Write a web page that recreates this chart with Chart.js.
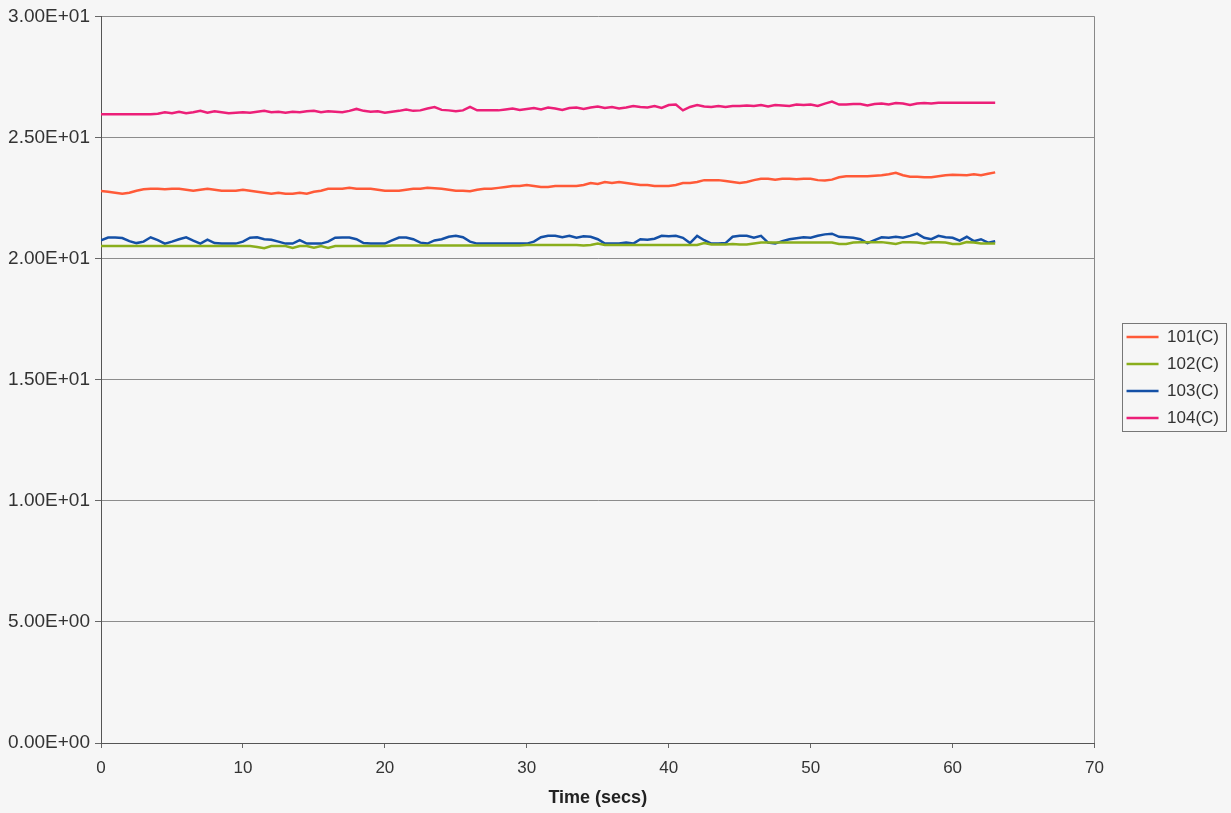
<!DOCTYPE html>
<html>
<head>
<meta charset="utf-8">
<script src="https://cdn.jsdelivr.net/npm/chart.js@4/dist/chart.umd.min.js"></script>
<style>
  html, body { margin: 0; padding: 0; background: #f6f6f6; }
  #wrap { width: 1231px; height: 813px; }
</style>
</head>
<body>
<div id="wrap"><canvas id="myChart" width="1231" height="813"></canvas></div>
<script>
// sample step 0.5 s, from 0 to 63 s
const timeStep = 0.5;
const times = [];
for (let i = 0; i <= 126; i++) times.push(i * timeStep);

const t101 = [
  22.79, 22.76, 22.72, 22.68, 22.72, 22.80, 22.86, 22.88, 22.88, 22.86,
  22.88, 22.88, 22.84, 22.80, 22.84, 22.88, 22.84, 22.80, 22.80, 22.80,
  22.84, 22.80, 22.76, 22.72, 22.68, 22.72, 22.68, 22.68, 22.72, 22.68,
  22.76, 22.80, 22.88, 22.88, 22.88, 22.92, 22.88, 22.88, 22.88, 22.84,
  22.80, 22.80, 22.80, 22.84, 22.88, 22.88, 22.92, 22.90, 22.88, 22.84,
  22.80, 22.80, 22.78, 22.84, 22.88, 22.88, 22.92, 22.96, 23.00, 23.00,
  23.04, 23.00, 22.96, 22.96, 23.00, 23.00, 23.00, 23.00, 23.04, 23.12,
  23.08, 23.16, 23.12, 23.16, 23.12, 23.08, 23.04, 23.04, 23.00, 23.00,
  23.00, 23.04, 23.12, 23.12, 23.16, 23.24, 23.24, 23.24, 23.20, 23.16,
  23.12, 23.16, 23.24, 23.30, 23.30, 23.26, 23.30, 23.30, 23.28, 23.30,
  23.30, 23.24, 23.22, 23.26, 23.36, 23.40, 23.40, 23.40, 23.40, 23.42,
  23.44, 23.48, 23.54, 23.44, 23.38, 23.38, 23.36, 23.36, 23.40, 23.44,
  23.46, 23.45, 23.44, 23.48, 23.44, 23.50, 23.56
];

const t102 = [
  20.52, 20.52, 20.52, 20.52, 20.52, 20.52, 20.52, 20.52, 20.52, 20.52,
  20.52, 20.52, 20.52, 20.52, 20.52, 20.52, 20.52, 20.52, 20.52, 20.52,
  20.52, 20.52, 20.48, 20.43, 20.52, 20.52, 20.52, 20.44, 20.52, 20.52,
  20.45, 20.52, 20.44, 20.52, 20.52, 20.52, 20.52, 20.52, 20.52, 20.52,
  20.52, 20.54, 20.54, 20.54, 20.54, 20.54, 20.54, 20.54, 20.54, 20.54,
  20.54, 20.54, 20.54, 20.54, 20.54, 20.54, 20.54, 20.54, 20.54, 20.54,
  20.56, 20.56, 20.56, 20.56, 20.56, 20.56, 20.56, 20.56, 20.54, 20.56,
  20.62, 20.56, 20.56, 20.56, 20.56, 20.56, 20.56, 20.56, 20.56, 20.56,
  20.56, 20.56, 20.56, 20.56, 20.56, 20.64, 20.58, 20.58, 20.58, 20.60,
  20.58, 20.58, 20.62, 20.66, 20.66, 20.66, 20.66, 20.66, 20.66, 20.66,
  20.66, 20.66, 20.66, 20.66, 20.60, 20.60, 20.66, 20.68, 20.68, 20.68,
  20.68, 20.64, 20.60, 20.68, 20.68, 20.66, 20.62, 20.68, 20.68, 20.66,
  20.60, 20.60, 20.68, 20.66, 20.62, 20.62, 20.62
];

const t103 = [
  20.75, 20.87, 20.87, 20.85, 20.72, 20.64, 20.70, 20.88, 20.76, 20.62,
  20.70, 20.80, 20.88, 20.74, 20.62, 20.78, 20.64, 20.62, 20.62, 20.62,
  20.70, 20.86, 20.88, 20.80, 20.78, 20.70, 20.62, 20.62, 20.76, 20.62,
  20.62, 20.62, 20.70, 20.86, 20.87, 20.87, 20.80, 20.64, 20.62, 20.62,
  20.62, 20.75, 20.87, 20.87, 20.80, 20.66, 20.62, 20.75, 20.80, 20.90,
  20.94, 20.88, 20.70, 20.62, 20.62, 20.62, 20.62, 20.62, 20.62, 20.62,
  20.62, 20.70, 20.88, 20.94, 20.94, 20.88, 20.94, 20.86, 20.92, 20.90,
  20.80, 20.62, 20.62, 20.62, 20.66, 20.62, 20.80, 20.78, 20.82, 20.94,
  20.92, 20.94, 20.86, 20.64, 20.94, 20.76, 20.62, 20.62, 20.64, 20.90,
  20.94, 20.94, 20.86, 20.94, 20.66, 20.62, 20.72, 20.80, 20.84, 20.88,
  20.86, 20.94, 21.00, 21.03, 20.90, 20.88, 20.86, 20.80, 20.64, 20.76,
  20.88, 20.86, 20.90, 20.86, 20.94, 21.03, 20.86, 20.80, 20.94, 20.88,
  20.86, 20.74, 20.90, 20.72, 20.80, 20.66, 20.72
];

const t104 = [
  25.96, 25.96, 25.96, 25.96, 25.96, 25.96, 25.96, 25.96, 25.98, 26.04,
  26.00, 26.06, 26.00, 26.04, 26.10, 26.02, 26.08, 26.04, 26.00, 26.02,
  26.04, 26.02, 26.06, 26.10, 26.04, 26.06, 26.02, 26.06, 26.04, 26.08,
  26.10, 26.04, 26.08, 26.06, 26.04, 26.10, 26.18, 26.10, 26.06, 26.08,
  26.02, 26.06, 26.10, 26.16, 26.10, 26.12, 26.20, 26.26, 26.14, 26.12,
  26.08, 26.12, 26.26, 26.12, 26.12, 26.12, 26.12, 26.16, 26.20, 26.14,
  26.18, 26.22, 26.16, 26.24, 26.20, 26.14, 26.22, 26.24, 26.18, 26.24,
  26.28, 26.22, 26.26, 26.20, 26.24, 26.30, 26.26, 26.24, 26.30, 26.22,
  26.34, 26.36, 26.12, 26.26, 26.34, 26.28, 26.26, 26.30, 26.26, 26.30,
  26.30, 26.32, 26.30, 26.34, 26.28, 26.34, 26.32, 26.30, 26.36, 26.34,
  26.36, 26.30, 26.40, 26.48, 26.36, 26.36, 26.38, 26.38, 26.32, 26.38,
  26.40, 26.36, 26.42, 26.40, 26.34, 26.40, 26.42, 26.40, 26.43, 26.43,
  26.43, 26.43, 26.43, 26.43, 26.43, 26.43, 26.43
];

const seriesNames = ['101(C)', '102(C)', '103(C)', '104(C)'];
const seriesColors = ['#ff5a38', '#8aae1c', '#1450a6', '#ec1f78'];
const xTicks = [0, 10, 20, 30, 40, 50, 60, 70];
const yTicks = [0, 5, 10, 15, 20, 25, 30];

function sci(v) {
  // 2.50E+01 style
  const parts = Number(v).toExponential(2).toUpperCase().split('E');
  let e = parseInt(parts[1], 10);
  const sign = e < 0 ? '-' : '+';
  e = Math.abs(e);
  return parts[0] + 'E' + sign + (e < 10 ? '0' + e : e);
}

function pts(arr) {
  return arr.map((v, i) => ({ x: times[i], y: v }));
}

const allSeries = [t101, t102, t103, t104];

// move the legend to where the reference has it and frame it
const legendBox = {
  id: 'legendBox',
  afterLayout(chart) {
    const lg = chart.legend;
    const dx = 22, dy = -36;
    lg.left += dx; lg.right += dx;
    lg.top += dy; lg.bottom += dy;
    (lg.legendHitBoxes || []).forEach(h => { h.top += dy; });
  },
  afterDraw(chart) {
    const hb = chart.legend.legendHitBoxes;
    if (!hb || !hb.length) return;
    const ctx = chart.ctx;
    let l = Infinity, t = Infinity, r = -Infinity, b = -Infinity;
    hb.forEach(h => {
      l = Math.min(l, h.left); t = Math.min(t, h.top);
      r = Math.max(r, h.left + h.width); b = Math.max(b, h.top + h.height);
    });
    ctx.save();
    ctx.strokeStyle = '#777';
    ctx.lineWidth = 1;
    ctx.strokeRect(Math.round(l - 5) + 0.5, Math.round(t - 6) + 0.5, Math.round(r - l + 12), Math.round(b - t + 10));
    ctx.restore();
  }
};

const config = {
  type: 'line',
  data: {
    datasets: allSeries.map((s, i) => ({
      label: seriesNames[i],
      data: pts(s),
      borderColor: seriesColors[i],
      backgroundColor: seriesColors[i],
      borderWidth: 2.5,
      pointRadius: 0,
      tension: 0
    }))
  },
  options: {
    responsive: false,
    animation: false,
    layout: { padding: { top: 14, right: 24, left: 0, bottom: 0 } },
    plugins: {
      tooltip: { enabled: false },
      legend: {
        position: 'right',
        labels: {
          usePointStyle: true,
          pointStyle: 'line',
          pointStyleWidth: 32,
          padding: 10,
          color: '#333',
          font: { family: 'Liberation Sans', size: 17 }
        }
      }
    },
    scales: {
      x: {
        type: 'linear',
        min: 0,
        max: 70,
        afterBuildTicks: s => { s.ticks = xTicks.map(v => ({ value: v })); },
        afterFit: s => { s.height = 70; },
        ticks: {
          color: '#333',
          font: { family: 'Liberation Sans', size: 17 },
          padding: 10,
          maxRotation: 0
        },
        grid: {
          drawOnChartArea: true,
          color: c => (c.tick && c.tick.value === 70) ? '#888' : 'rgba(0,0,0,0)',
          tickColor: '#666',
          tickLength: 5
        },
        border: { color: '#555', width: 1 },
        title: {
          display: true,
          text: 'Time (secs)',
          color: '#222',
          font: { family: 'Liberation Sans', size: 18, weight: 'bold' },
          padding: { top: 5 }
        }
      },
      y: {
        min: 0,
        max: 30,
        afterBuildTicks: s => { s.ticks = yTicks.map(v => ({ value: v })); },
        afterFit: s => { s.width = 101; },
        ticks: {
          color: '#333',
          font: { family: 'Liberation Sans', size: 19 },
          padding: 5,
          callback: v => sci(v)
        },
        grid: {
          color: '#8c8c8c',
          tickColor: '#666',
          tickLength: 6
        },
        border: { color: '#555', width: 1 }
      }
    }
  },
  plugins: [legendBox]
};

const myChart = new Chart(document.getElementById('myChart'), config);
</script>
</body>
</html>
